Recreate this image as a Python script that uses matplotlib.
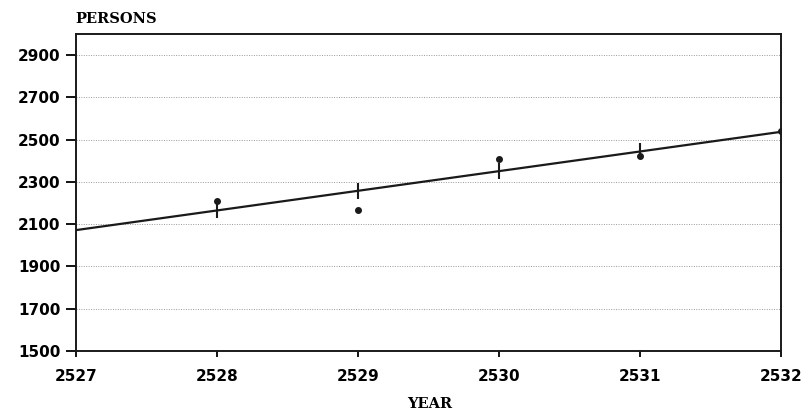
import matplotlib
matplotlib.use("Agg")
import matplotlib.pyplot as plt

# values
years = [2527, 2528, 2529, 2530, 2531, 2532]
trend = [2072, 2165, 2258, 2351, 2444, 2537]

obs_years = [2528, 2529, 2530, 2531, 2532]
observed = [2208, 2165, 2408, 2424, 2540]

fit_years = [2528, 2529, 2530, 2531]
fitted = [2165, 2258, 2351, 2444]

y_ticks = [1500, 1700, 1900, 2100, 2300, 2500, 2700, 2900]

fig = plt.figure(figsize=(8.07, 4.17), dpi=100)
ax = fig.add_axes([0.0942, 0.1583, 0.8736, 0.7602])

# dotted grid lines
for v in y_ticks[1:]:
    ax.axhline(v, color="#999999", lw=0.7, ls=(0, (1, 1.5)), zorder=1)

ax.plot(years, trend, color="#1a1a1a", lw=1.6, zorder=3)
ax.plot(fit_years, fitted, ls="none", marker="|", ms=12, mew=1.5,
        color="#1a1a1a", zorder=4)
ax.plot(obs_years, observed, ls="none", marker="o", ms=4,
        color="#1a1a1a", zorder=4)

ax.set_xlim(2527, 2532)
ax.set_ylim(1500, 3000)
ax.set_xticks(years)
ax.set_yticks(y_ticks)

num_font = dict(family="DejaVu Sans", weight="bold", size=11)
ax.set_xticklabels([str(y) for y in years], **num_font)
ax.set_yticklabels([str(v) for v in y_ticks], **num_font)
ax.tick_params(axis="y", direction="out", length=7, width=1.3, pad=4)
ax.tick_params(axis="x", direction="out", length=4, width=1.3, pad=9)

for s in ax.spines.values():
    s.set_linewidth(1.4)
    s.set_color("#1a1a1a")

fig.text(0.093, 0.955, "PERSONS", family="DejaVu Serif", weight="bold",
         size=10.5, ha="left", va="center")
fig.text(0.533, 0.03, "YEAR", family="DejaVu Serif", weight="bold",
         size=10.5, ha="center", va="center")

fig.savefig("out.png", dpi=100)
